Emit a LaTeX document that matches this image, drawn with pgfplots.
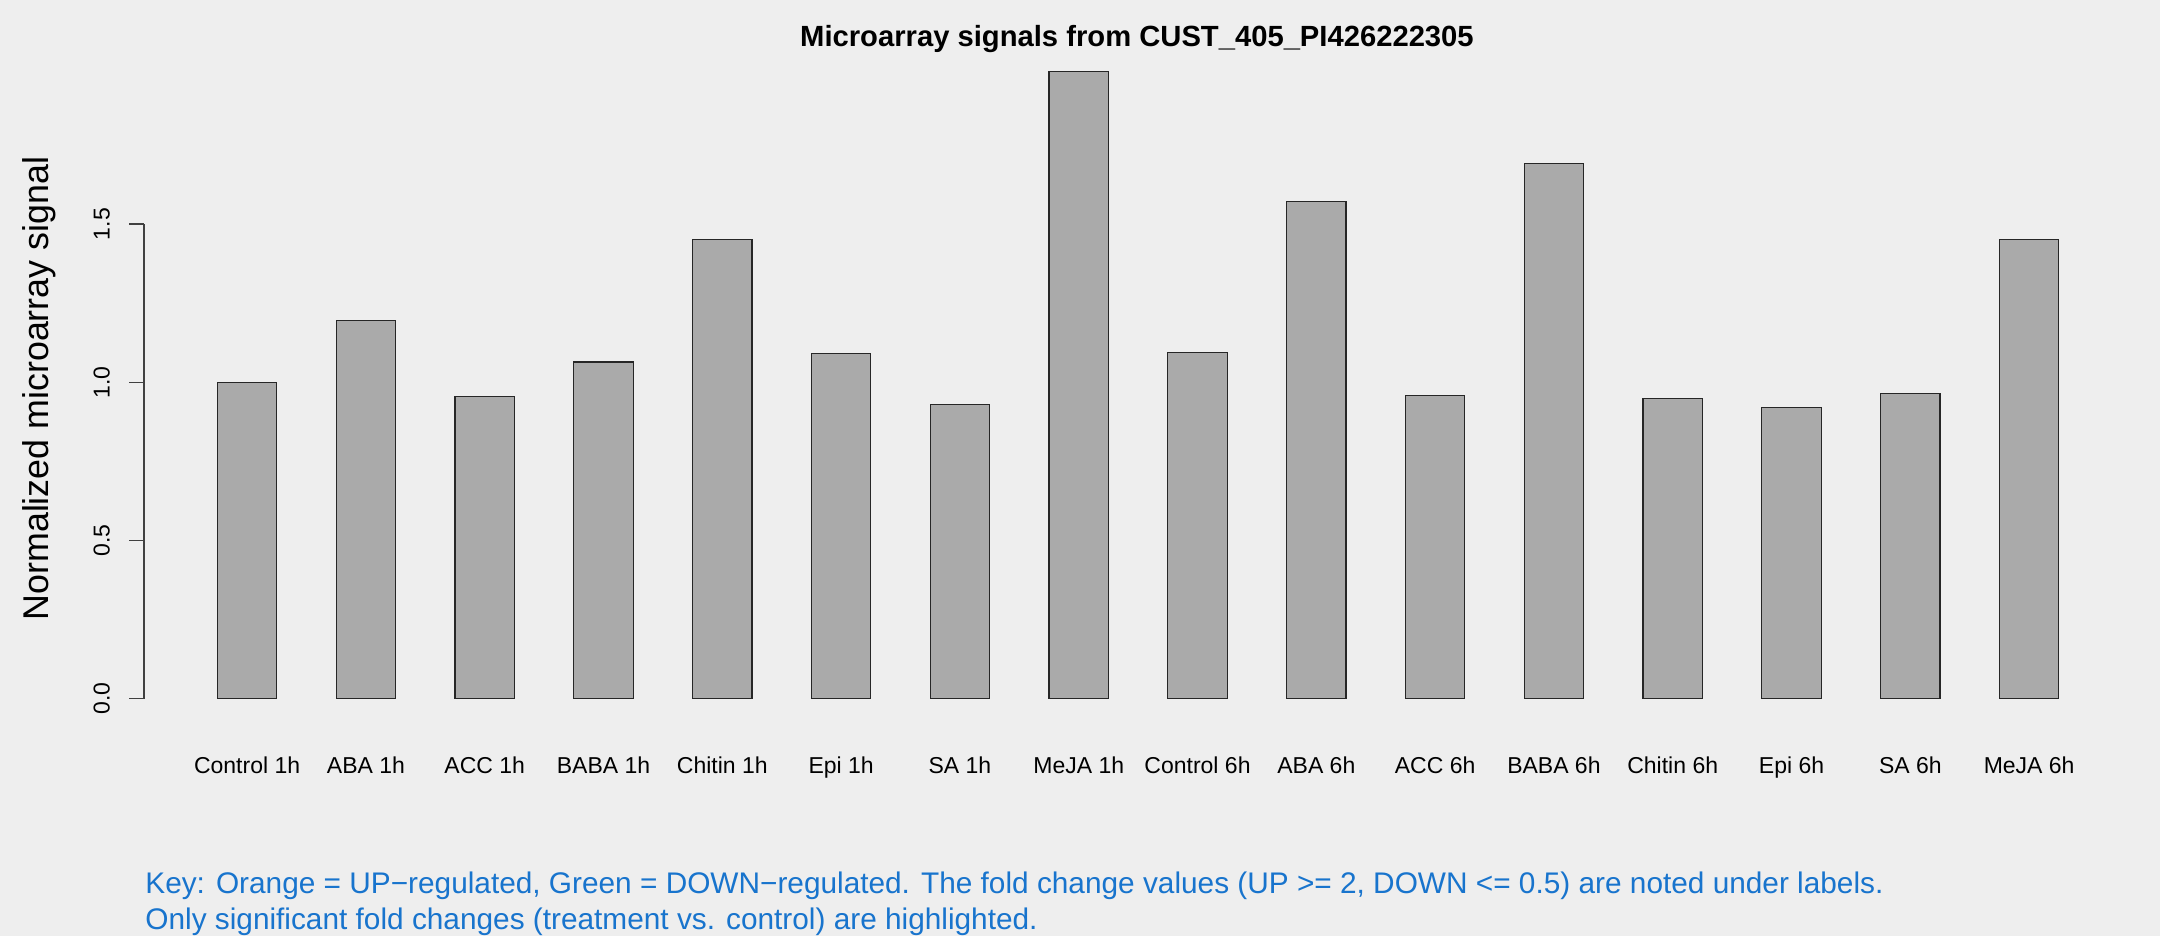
\documentclass[border=0pt]{standalone}
\usepackage{pgfplots}
\pgfplotsset{compat=1.18}
\usepackage{fontspec}
\setmainfont{Liberation Sans}
\definecolor{bgcol}{HTML}{EEEEEE}
\definecolor{barcol}{HTML}{AAAAAA}
\definecolor{keycol}{HTML}{1874CD}
\begin{document}
\begin{tikzpicture}
\fill[bgcol] (0,0) rectangle (1080pt,468pt);
\useasboundingbox (0,0) rectangle (1080pt,468pt);
\begin{axis}[
  at={(72pt,118.6pt)}, anchor=south west,
  x=59.4pt, y=158.25pt,
  xmin=-0.868, xmax=15.5, ymin=0, ymax=1.5,
  clip=false,
  axis y line*=left, axis x line*=bottom,
  x axis line style={draw=none},
  y axis line style={black!75, line width=0.6pt},
  xtick={0,...,15},
  xticklabels={Control 1h,ABA 1h,ACC 1h,BABA 1h,Chitin 1h,Epi 1h,SA 1h,MeJA 1h,Control 6h,ABA 6h,ACC 6h,BABA 6h,Chitin 6h,Epi 6h,SA 6h,MeJA 6h},
  xtick style={draw=none},
  ytick={0,0.5,1,1.5},
  ytick style={black!75, line width=0.6pt},
  tick align=outside,
  major tick length=7.5pt,
  /pgf/number format/assume math mode=true,
  yticklabel={\pgfmathprintnumber[fixed,fixed zerofill,precision=1]{\tick}},
  yticklabel style={xshift=-6pt, rotate=90, anchor=south, font=\fontsize{11.5}{13}\selectfont},
  xticklabel style={anchor=base, yshift=-30pt, font=\fontsize{11.5}{13}\selectfont},
]
\addplot[ybar, bar width=29.7pt, fill=barcol, draw=black!85, line width=0.6pt]
coordinates {
(0,1.000) (1,1.194) (2,0.955) (3,1.064) (4,1.452) (5,1.090) (6,0.929) (7,1.983)
(8,1.094) (9,1.572) (10,0.958) (11,1.691) (12,0.948) (13,0.921) (14,0.965) (15,1.450)
};
\end{axis}
\node[font=\bfseries\fontsize{14.6}{16}\selectfont, anchor=base] at (568.5pt,444.65pt) {Microarray signals from CUST\_405\_PI426222305};
\node[font=\fontsize{17.9}{20}\selectfont, rotate=90, anchor=center] at (19.5pt,273.7pt) {Normalized microarray signal};
\node[font=\fontsize{14.9}{16}\selectfont, text=keycol, anchor=base west, inner sep=0pt] at (72.5pt,21pt) {Key: Orange = UP−regulated, Green = DOWN−regulated. The fold change values (UP >= 2, DOWN <= 0.5) are noted under labels.};
\node[font=\fontsize{14.9}{16}\selectfont, text=keycol, anchor=base west, inner sep=0pt] at (72.5pt,3.4pt) {Only significant fold changes (treatment vs. control) are highlighted.};
\end{tikzpicture}
\end{document}
